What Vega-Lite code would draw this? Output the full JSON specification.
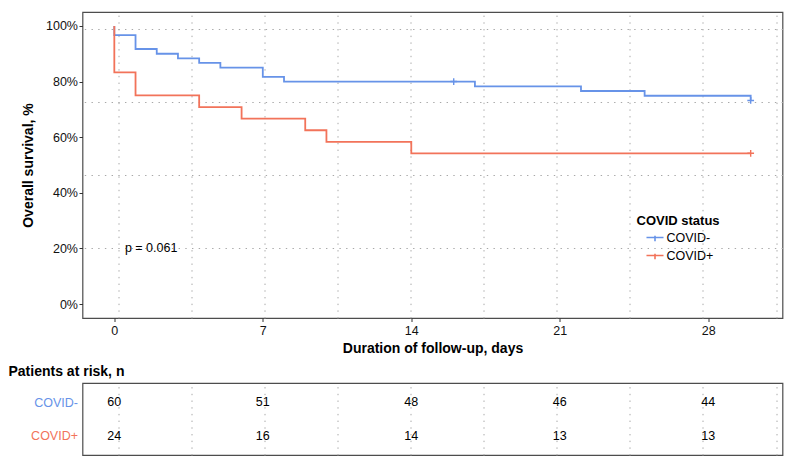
{
  "$schema": "https://vega.github.io/schema/vega-lite/v6.json",
  "padding": {"left": 7.5, "top": 11, "right": 5, "bottom": 5},
  "background": "white",
  "spacing": 8,
  "config": {
    "font": "Liberation Sans",
    "view": {"stroke": "#4d4d4d", "strokeWidth": 1.2},
    "axis": {
      "labelFont": "Liberation Sans",
      "labelFontSize": 12.5,
      "labelColor": "#111111",
      "titleFont": "Liberation Sans",
      "titleFontSize": 14,
      "titleFontWeight": "bold",
      "titleColor": "#000000",
      "tickColor": "#333333",
      "tickSize": 3.5,
      "domain": false,
      "gridColor": "#a8a8a8",
      "gridDash": [1.4, 5.3],
      "gridWidth": 1,
      "labelOverlap": false,
      "labelBound": false,
      "labelFlush": false
    },
    "legend": {
      "titleFont": "Liberation Sans",
      "labelFont": "Liberation Sans"
    }
  },
  "vconcat": [
    {
      "width": 700,
      "height": 306,
      "resolve": {"axis": {"x": "independent", "y": "independent"}},
      "layer": [
        {
          "data": {
            "values": [
              {"group": "COVID-", "day": 16, "surv": 80.0},
              {"group": "COVID-", "day": 30, "surv": 73.2},
              {"group": "COVID+", "day": 30, "surv": 54.2}
            ]
          },
          "mark": {"type": "point", "shape": "M-1,0H1M0,-1V1", "size": 45, "filled": false, "strokeWidth": 1.4, "opacity": 1},
          "encoding": {
            "x": {
              "field": "day",
              "type": "quantitative",
              "scale": {"domain": [-1.5, 31.5], "nice": false, "zero": false},
              "axis": {
                "orient": "top",
                "title": null,
                "values": [0.18, 3.63, 7.07, 10.52, 13.97, 17.41, 20.86, 24.3, 27.75, 31.2],
                "labels": false,
                "ticks": false,
                "domain": false,
                "grid": true
              }
            },
            "y": {
              "field": "surv",
              "type": "quantitative",
              "scale": {"domain": [-5, 105], "nice": false, "zero": false},
              "axis": {
                "orient": "right",
                "title": null,
                "values": [98.9, 72.6, 46.4, 20.2],
                "labels": false,
                "ticks": false,
                "domain": false,
                "grid": true
              }
            },
            "color": {"field": "group", "type": "nominal"}
          }
        },
        {
          "data": {
            "values": [
              {"group": "COVID-", "step": 0, "day": 0, "surv": 100},
              {"group": "COVID-", "step": 1, "day": 0, "surv": 96.7},
              {"group": "COVID-", "step": 2, "day": 1, "surv": 91.7},
              {"group": "COVID-", "step": 3, "day": 2, "surv": 90.0},
              {"group": "COVID-", "step": 4, "day": 3, "surv": 88.3},
              {"group": "COVID-", "step": 5, "day": 4, "surv": 86.7},
              {"group": "COVID-", "step": 6, "day": 5, "surv": 85.0},
              {"group": "COVID-", "step": 7, "day": 7, "surv": 81.7},
              {"group": "COVID-", "step": 8, "day": 8, "surv": 80.0},
              {"group": "COVID-", "step": 9, "day": 17, "surv": 78.3},
              {"group": "COVID-", "step": 10, "day": 22, "surv": 76.6},
              {"group": "COVID-", "step": 11, "day": 25, "surv": 74.9},
              {"group": "COVID-", "step": 12, "day": 30, "surv": 73.2},
              {"group": "COVID+", "step": 0, "day": 0, "surv": 100},
              {"group": "COVID+", "step": 1, "day": 0, "surv": 83.3},
              {"group": "COVID+", "step": 2, "day": 1, "surv": 75.0},
              {"group": "COVID+", "step": 3, "day": 4, "surv": 70.8},
              {"group": "COVID+", "step": 4, "day": 6, "surv": 66.7},
              {"group": "COVID+", "step": 5, "day": 9, "surv": 62.5},
              {"group": "COVID+", "step": 6, "day": 10, "surv": 58.3},
              {"group": "COVID+", "step": 7, "day": 14, "surv": 54.2},
              {"group": "COVID+", "step": 8, "day": 30, "surv": 54.2}
            ]
          },
          "mark": {"type": "line", "interpolate": "step-after", "strokeWidth": 1.8},
          "encoding": {
            "x": {
              "field": "day",
              "type": "quantitative",
              "axis": {
                "title": "Duration of follow-up, days",
                "values": [0, 7, 14, 21, 28],
                "grid": false,
                "labelPadding": 3,
                "titlePadding": 4
              }
            },
            "y": {
              "field": "surv",
              "type": "quantitative",
              "axis": {
                "title": "Overall survival, %",
                "values": [0, 20, 40, 60, 80, 100],
                "labelExpr": "datum.value + '%'",
                "grid": false,
                "labelPadding": 1.5,
                "titlePadding": 10
              }
            },
            "color": {
              "field": "group",
              "type": "nominal",
              "scale": {"domain": ["COVID-", "COVID+"], "range": ["#6793E8", "#F2735A"]},
              "legend": {
                "title": "COVID status",
                "orient": "none",
                "legendX": 554,
                "legendY": 203,
                "padding": 0,
                "titleFontSize": 13,
                "titleFontWeight": "bold",
                "titleColor": "#000000",
                "titlePadding": 0,
                "labelFontSize": 12.5,
                "labelColor": "#000000",
                "labelOffset": 2,
                "symbolType": "M-1,0H1M0,-0.2V0.45",
                "symbolSize": 290,
                "symbolStrokeWidth": 1.6,
                "symbolOffset": 9,
                "rowPadding": 1
              }
            },
            "order": {"field": "step", "type": "quantitative"}
          }
        },
        {
          "data": {"values": [{"label": "p = 0.061"}]},
          "mark": {"type": "text", "align": "left", "baseline": "middle", "fontSize": 12.5, "color": "#000000", "font": "Liberation Sans"},
          "encoding": {
            "x": {"datum": 0.5, "type": "quantitative", "axis": null},
            "y": {"datum": 20, "type": "quantitative", "axis": null},
            "text": {"field": "label", "type": "nominal"}
          }
        }
      ]
    },
    {
      "width": 700,
      "height": 72,
      "title": {
        "text": "Patients at risk, n",
        "anchor": "start",
        "frame": "group",
        "dx": -74,
        "offset": 4,
        "fontSize": 14,
        "fontWeight": "bold",
        "color": "#000000",
        "font": "Liberation Sans"
      },
      "data": {
        "values": [
          {"group": "COVID-", "day": 0, "n": 60},
          {"group": "COVID-", "day": 7, "n": 51},
          {"group": "COVID-", "day": 14, "n": 48},
          {"group": "COVID-", "day": 21, "n": 46},
          {"group": "COVID-", "day": 28, "n": 44},
          {"group": "COVID+", "day": 0, "n": 24},
          {"group": "COVID+", "day": 7, "n": 16},
          {"group": "COVID+", "day": 14, "n": 14},
          {"group": "COVID+", "day": 21, "n": 13},
          {"group": "COVID+", "day": 28, "n": 13}
        ]
      },
      "mark": {"type": "text", "fontSize": 12.5, "color": "#000000", "font": "Liberation Sans", "baseline": "middle"},
      "encoding": {
        "x": {
          "field": "day",
          "type": "quantitative",
          "scale": {"domain": [-1.5, 31.5], "nice": false, "zero": false},
          "axis": {
            "title": null,
            "values": [0.18, 3.63, 7.07, 10.52, 13.97, 17.41, 20.86, 24.3, 27.75, 31.2],
            "labels": false,
            "ticks": false,
            "grid": true
          }
        },
        "y": {
          "field": "group",
          "type": "nominal",
          "sort": ["COVID-", "COVID+"],
          "scale": {"type": "point", "padding": 0.57},
          "axis": {
            "title": null,
            "ticks": false,
            "labelPadding": 5,
            "labelFontSize": 12.5,
            "labelColor": {"condition": {"test": "datum.value === 'COVID-'", "value": "#6793E8"}, "value": "#F2735A"}
          }
        },
        "text": {"field": "n", "type": "quantitative"}
      }
    }
  ]
}
